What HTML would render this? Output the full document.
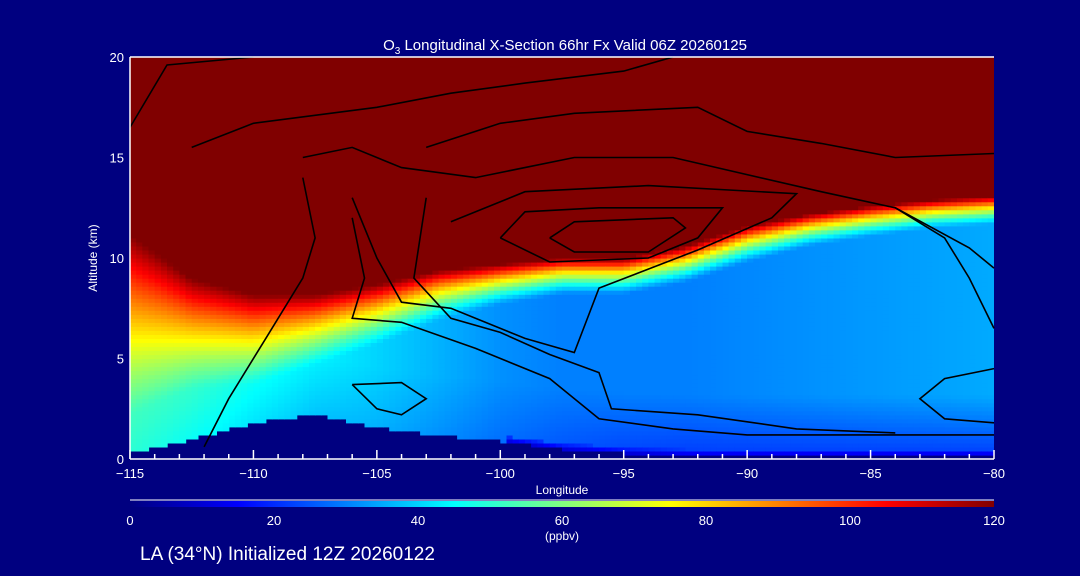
<!DOCTYPE html>
<html><head><meta charset="utf-8"><style>
body{margin:0;background:#000080;}
svg{display:block;font-family:"Liberation Sans",sans-serif;}
</style></head><body>
<svg id="chart" width="1080" height="576" viewBox="0 0 1080 576">
<rect width="1080" height="576" fill="#000080"/>
<g id="field"></g>
<g id="contours"></g>
<g id="axes"></g>
<g id="cbar"></g>
<text x="565" y="50" fill="#fff" font-size="15" text-anchor="middle">O<tspan font-size="10" dy="4">3</tspan><tspan dy="-4"> Longitudinal X-Section 66hr  Fx Valid 06Z 20260125</tspan></text>
<text x="97" y="258" fill="#fff" font-size="12" text-anchor="middle" transform="rotate(-90 97 258)">Altitude (km)</text>
<text x="562" y="494" fill="#fff" font-size="12" text-anchor="middle">Longitude</text>
<text x="562" y="540" fill="#fff" font-size="12" text-anchor="middle">(ppbv)</text>
<text x="140" y="560" fill="#fff" font-size="19">LA (34°N) Initialized 12Z 20260122</text>
</svg>
<script>
const lons   = [-115,-112.5,-110,-107.5,-105,-102.5,-100,-97.5,-95,-92.5,-90,-87.5,-85,-82.5,-80];
const trop   = [11.2, 9.0, 8.2, 8.2, 8.7, 9.4, 9.7, 10.0, 10.0, 10.6, 11.6, 12.2, 12.6, 12.9, 13.1];
const band   = [9, 5.5, 4.5, 3.5, 3, 2.5, 2, 1.8, 1.8, 1.8, 1.8, 1.6, 1.5, 1.4, 1.4];
const bgMid  = [54, 52, 48, 44, 40, 36, 32, 30, 30, 30, 31, 32, 33, 34, 35];
const bgLow  = [50, 46, 42, 38, 36, 32, 28, 25, 23, 22, 22, 22, 22, 22, 22];
const terrain= [0.3, 1.0, 1.8, 2.2, 1.6, 1.2, 0.9, 0.5, 0.3, 0.2, 0.2, 0.2, 0.2, 0.2, 0.2];
const xTicks = [-115,-110,-105,-100,-95,-90,-85,-80];
const yTicks = [0,5,10,15,20];
const cbTicks= [0,20,40,60,80,100,120];
const contourLines = [
 [[-115,16.5],[-113.5,19.6],[-110,20]],
 [[-112.5,15.5],[-110,16.7],[-105,17.5],[-102,18.2],[-99,18.7],[-95,19.3],[-93,20]],
 [[-103,15.5],[-100,16.7],[-97,17.2],[-92,17.5],[-90,16.3],[-87,15.7],[-84,15],[-80,15.2]],
 [[-108,15],[-106,15.5],[-104,14.5],[-101,14],[-97,15],[-93,15],[-87,13.3],[-84,12.5],[-81,10.5],[-80,9.5]],
 [[-100,11],[-99,12.3],[-96,12.5],[-91,12.5],[-92,11],[-94,10],[-98,9.8],[-100,11]],
 [[-98,11],[-97,11.8],[-93,12],[-92.5,11.5],[-94,10.3],[-97,10.3],[-98,11]],
 [[-102,11.8],[-99,13.3],[-94,13.6],[-88,13.2],[-89,12],[-92,10.4],[-96,8.5],[-97,5.3],[-99,6],[-102,7.5],[-104,7.8],[-105,10],[-106,13]],
 [[-108,14],[-107.5,11],[-108,9],[-109.5,6],[-111,3],[-112,0.6]],
 [[-106,12],[-105.5,9],[-106,7],[-104,6.8],[-101,5.5],[-98,4],[-96,2],[-93,1.5],[-90,1.2],[-86,1.2],[-80,1.2]],
 [[-103,13],[-103.5,9],[-102,7],[-100,6.3],[-98,5.2],[-96,4.3],[-95.5,2.5],[-92,2.2],[-88,1.5],[-84,1.3]],
 [[-106,3.7],[-105,2.5],[-104,2.2],[-103,3],[-104,3.8],[-106,3.7]],
 [[-84,12.5],[-82,11],[-81,9],[-80,6.5]],
 [[-80,4.5],[-82,4],[-83,3],[-82,2],[-80,1.8]]
];
const X0=130,X1=994,Y0=459,Y1=57;
const xs=l=>X0+(l+115)/35*(X1-X0);
const ys=a=>Y0-a/20*(Y0-Y1);
function interp(arr,l){
  if(l<=lons[0])return arr[0];
  for(let i=0;i<lons.length-1;i++){if(l<=lons[i+1]){const t=(l-lons[i])/(lons[i+1]-lons[i]);return arr[i]+(arr[i+1]-arr[i])*t;}}
  return arr[arr.length-1];
}
function jet(v){
  let t=Math.max(0,Math.min(1,v/120));
  const r=Math.max(0,Math.min(1,Math.min(4*t-1.5,-4*t+4.5)));
  const g=Math.max(0,Math.min(1,Math.min(4*t-0.5,-4*t+3.5)));
  const b=Math.max(0,Math.min(1,Math.min(4*t+0.5,-4*t+2.5)));
  return `rgb(${Math.round(r*255)},${Math.round(g*255)},${Math.round(b*255)})`;
}
const NS='http://www.w3.org/2000/svg';
const field=document.getElementById('field');
const dl=0.25, da=0.2;
for(let l=-115;l<-80-1e-6;l+=dl){
  const lc=l+dl/2;
  const tr=interp(trop,lc), bd=interp(band,lc), bm=interp(bgMid,lc), bl=interp(bgLow,lc), te=interp(terrain,lc);
  const w=Math.min(xs(l+dl)+0.6,X1)-xs(l);
  for(let a=0;a<20-1e-6;a+=da){
    const am=a+da/2;
    if(am<te) continue;
    const bg=bl+(bm-bl)*Math.min(1,(am-te)/3);
    const d=tr-am;
    let v;
    if(d<=0) v=120; else {const f=Math.max(0,1-d/bd); v=bg+(120-bg)*Math.pow(f,1.3);}
    if(am-te<0.3 && l>-100) v=Math.min(v,10+(am-te)*40);
    const r=document.createElementNS(NS,'rect');
    r.setAttribute('x',xs(l).toFixed(1));r.setAttribute('y',ys(a+da).toFixed(1));
    r.setAttribute('width',w.toFixed(1));r.setAttribute('height',(ys(a)-ys(a+da)+0.6).toFixed(1));
    r.setAttribute('fill',jet(v));
    
    
    field.appendChild(r);
  }
}
const cg=document.getElementById('contours');
contourLines.forEach(pts=>{
  const p=document.createElementNS(NS,'polyline');
  p.setAttribute('points',pts.map(q=>xs(q[0]).toFixed(1)+','+ys(q[1]).toFixed(1)).join(' '));
  p.setAttribute('fill','none');p.setAttribute('stroke','#000');p.setAttribute('stroke-width','1.6');
  
  
  cg.appendChild(p);
});
const ax=document.getElementById('axes');
function ln(x1,y1,x2,y2,name){const e=document.createElementNS(NS,'line');e.setAttribute('x1',x1);e.setAttribute('y1',y1);e.setAttribute('x2',x2);e.setAttribute('y2',y2);e.setAttribute('stroke','#fff');e.setAttribute('stroke-width','1.5');
  
  
  ax.appendChild(e);}
function tx(x,y,s,anc,size,name,parent){const e=document.createElementNS(NS,'text');e.setAttribute('x',x);e.setAttribute('y',y);e.setAttribute('fill','#fff');e.setAttribute('font-size',size);e.setAttribute('text-anchor',anc);e.textContent=s;
  
  
  (parent||ax).appendChild(e);}
ln(X0,Y0,X1,Y0,'x-axis-line');ln(X0,Y1,X1,Y1,'top-axis-line');ln(X0,Y0,X0,Y1,'y-axis-line');
for(let l=-115;l<=-80;l++){const maj=(l%5===0);ln(xs(l),Y0,xs(l),Y0-(maj?9:5),'x-tick');}
xTicks.forEach(l=>tx(xs(l),478,'\u2212'+Math.abs(l),'middle',13,'x-tick-label'));
yTicks.forEach(a=>tx(124,ys(a)+5,String(a),'end',13,'y-tick-label'));
const cb=document.getElementById('cbar');
const defs=document.createElementNS(NS,'defs');
const gr=document.createElementNS(NS,'linearGradient');gr.setAttribute('id','jetg');
for(let i=0;i<=24;i++){const s=document.createElementNS(NS,'stop');s.setAttribute('offset',(i/24));s.setAttribute('stop-color',jet(i*5));gr.appendChild(s);}
defs.appendChild(gr);cb.appendChild(defs);
const bar=document.createElementNS(NS,'rect');bar.setAttribute('x',X0);bar.setAttribute('y',501);bar.setAttribute('width',X1-X0);bar.setAttribute('height',6);bar.setAttribute('fill','url(#jetg)');


cb.appendChild(bar);
const wl=document.createElementNS(NS,'line');wl.setAttribute('x1',X0);wl.setAttribute('x2',X1);wl.setAttribute('y1',500);wl.setAttribute('y2',500);wl.setAttribute('stroke','#fff');


cb.appendChild(wl);
cbTicks.forEach(v=>tx(X0+v/120*(X1-X0),525,String(v),'middle',13,'colorbar-tick-label',cb));
</script>
</body></html>
